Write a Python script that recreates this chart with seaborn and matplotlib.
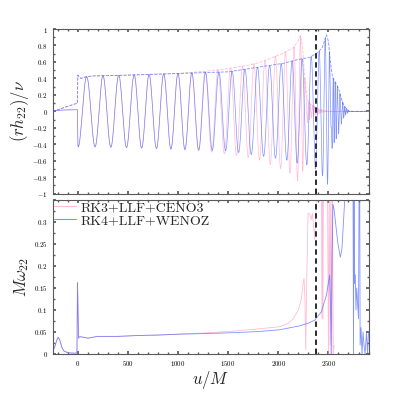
import numpy as np
import seaborn as sns
import matplotlib.pyplot as plt
from matplotlib.ticker import MultipleLocator, FuncFormatter

# --- values ---
# frequency M*omega_22 (shared part, both runs agree up to u ~ 1000)
u_w_early = [-250, -230, -210, -195, -180, -160, -140, -100, -50, -8, -3, 2, 8, 16, 30, 60, 100, 150, 200, 400, 600, 800, 1000]
w_early = [0.006, 0.016, 0.031, 0.038, 0.032, 0.016, 0.007, 0.003, 0.002, 0.002, 0.162, 0.11, 0.036, 0.039, 0.039, 0.038, 0.036, 0.038, 0.040, 0.040, 0.042, 0.043, 0.045]

# RK3+LLF+CENO3 (pink) after u ~ 1000
u_w_pink = [1200, 1500, 1800, 2015, 2100, 2148, 2200, 2230, 2247, 2257, 2266, 2274, 2282, 2297, 2314, 2328, 2340, 2352, 2364, 2376, 2390, 2430, 2435, 2440, 2445, 2450, 2490, 2500, 2508, 2515, 2525, 2533, 2540, 2548, 2556]
w_pink = [0.047, 0.051, 0.057, 0.062, 0.070, 0.080, 0.100, 0.125, 0.160, 0.172, 0.120, 0.010, 0.150, 0.320, 0.318, 0.305, 0.320, 0.290, 0.260, 0.330, 0.400, 0.400, 0.080, 0.400, 0.080, 0.400, 0.400, 0.000, 0.400, 0.020, 0.400, 0.000, 0.400, 0.000, 0.020]

# RK4+LLF+WENOZ (blue) after u ~ 1000
u_w_blue = [1200, 1500, 1800, 2015, 2214, 2300, 2364, 2430, 2480, 2513, 2520, 2527, 2535, 2545, 2556, 2570, 2595, 2619, 2635, 2650, 2665, 2700, 2745, 2750, 2755, 2760, 2768, 2775, 2782, 2790, 2800, 2806, 2812, 2816, 2825, 2835, 2845, 2855, 2865, 2880, 2890, 2900]
w_blue = [0.046, 0.048, 0.051, 0.055, 0.064, 0.070, 0.077, 0.096, 0.134, 0.180, 0.120, 0.000, 0.200, 0.340, 0.330, 0.300, 0.250, 0.220, 0.240, 0.300, 0.360, 0.400, 0.400, 0.000, 0.400, 0.160, 0.180, 0.100, 0.150, 0.120, 0.080, 0.400, 0.400, 0.020, 0.060, 0.000, 0.050, 0.020, 0.000, 0.050, 0.000, 0.050]

# amplitude |r h_22|/nu (dashed envelopes)
u_amp_pink = [-250, -3, 0, 30, 80, 150, 500, 1000, 1300, 1500, 1700, 1817, 2015, 2148, 2190, 2221, 2240, 2260, 2290, 2320, 2360, 2400, 2450, 2500, 2900]
amp_pink = [0.0, 0.10, 0.44, 0.40, 0.42, 0.43, 0.44, 0.46, 0.49, 0.52, 0.56, 0.595, 0.69, 0.77, 0.84, 0.92, 0.80, 0.45, 0.14, 0.09, 0.06, 0.03, 0.01, 0.0, 0.0]
u_amp_blue = [-250, -3, 0, 30, 80, 150, 500, 1000, 1500, 2048, 2200, 2314, 2400, 2440, 2480, 2500, 2520, 2540, 2570, 2600, 2630, 2660, 2690, 2710, 2900]
amp_blue = [0.0, 0.10, 0.44, 0.40, 0.42, 0.43, 0.44, 0.46, 0.48, 0.583, 0.63, 0.656, 0.72, 0.78, 0.93, 0.85, 0.60, 0.42, 0.35, 0.28, 0.15, 0.06, 0.02, 0.0, 0.0]

# real part before the junk burst at u = 0
u_pre = [-250, -200, -150, -100, -50, -3]
re_pre = [0.003, 0.012, 0.016, 0.018, 0.019, 0.020]

u_merger = 2375
labels = ['RK3+LLF+CENO3', 'RK4+LLF+WENOZ']
colors = ['#ff9ec8', '#4a64ff']

w_pink_all = (u_w_early + u_w_pink, w_early + w_pink)
w_blue_all = (u_w_early + u_w_blue, w_early + w_blue)


def real_part(u_w, w, u_amp, amp):
    # Re(h) = A cos(phi), phi from integrating the frequency above
    u = np.arange(0.0, 2900.1, 0.1)
    om = np.interp(u, u_w, w)
    phi = np.concatenate([[0.0], np.cumsum(0.5 * (om[1:] + om[:-1]) * np.diff(u))])
    phi = phi - np.interp(6.0, u, phi) + np.pi
    re = np.interp(u, u_amp, amp) * np.cos(phi)
    return np.concatenate([u_pre, u]), np.concatenate([re_pre, re])


sns.set_theme(style='ticks')
plt.rcParams.update({
    'font.family': 'serif',
    'font.serif': ['cmr10', 'DejaVu Serif'],
    'mathtext.fontset': 'cm',
    'axes.formatter.use_mathtext': True,
    'axes.edgecolor': '0.35',
    'axes.linewidth': 0.8,
    'xtick.direction': 'in', 'ytick.direction': 'in',
    'xtick.top': True, 'ytick.right': True,
    'xtick.color': '0.35', 'ytick.color': '0.35',
    'xtick.labelcolor': 'black', 'ytick.labelcolor': 'black',
    'xtick.major.size': 2.5, 'ytick.major.size': 2.5,
    'xtick.minor.size': 1.3, 'ytick.minor.size': 1.3,
    'xtick.minor.visible': True, 'ytick.minor.visible': True,
    'xtick.labelsize': 5, 'ytick.labelsize': 5,
})

fig = plt.figure(figsize=(4.07, 3.98), dpi=100)
ax1 = fig.add_axes([0.1295, 0.5133, 0.776, 0.4138])
ax2 = fig.add_axes([0.1295, 0.1106, 0.776, 0.3869])

fmt = FuncFormatter(lambda v, p: '$%g$' % round(v, 3))
fmt_w = FuncFormatter(lambda v, p: '' if v > 0.33 else '$%g$' % round(v, 3))

# top: waveform
for (u_w, w), u_a, a, c in [(w_pink_all, u_amp_pink, amp_pink, colors[0]),
                             (w_blue_all, u_amp_blue, amp_blue, colors[1])]:
    uu, re = real_part(u_w, w, u_a, a)
    sns.lineplot(x=uu, y=re, ax=ax1, color=c, lw=0.5, alpha=0.7, estimator=None, sort=False)
    sns.lineplot(x=u_a, y=a, ax=ax1, color=c, lw=0.6, alpha=0.7, estimator=None, sort=False, linestyle='--')
ax1.axvline(u_merger, color='k', ls='--', lw=1.3, dashes=(3, 2))
ax1.set_xlim(-250, 2900)
ax1.set_ylim(-1, 1)
ax1.xaxis.set_major_locator(MultipleLocator(500))
ax1.xaxis.set_minor_locator(MultipleLocator(100))
ax1.yaxis.set_major_locator(MultipleLocator(0.2))
ax1.yaxis.set_minor_locator(MultipleLocator(0.1))
ax1.yaxis.set_major_formatter(fmt)
ax1.set_xticklabels([])
ax1.set_ylabel(r'$(rh_{22})/\nu$', fontsize=12)
ax1.yaxis.set_label_coords(-0.068, 0.5)

# bottom: frequency
for (u_w, w), lab, c in [(w_pink_all, labels[0], colors[0]), (w_blue_all, labels[1], colors[1])]:
    sns.lineplot(x=u_w, y=w, ax=ax2, color=c, lw=0.6, alpha=0.7, estimator=None, sort=False, label=lab)
ax2.axvline(u_merger, color='k', ls='--', lw=1.3, dashes=(3, 2))
ax2.set_xlim(-250, 2900)
ax2.set_ylim(0, 0.35)
ax2.xaxis.set_major_locator(MultipleLocator(500))
ax2.xaxis.set_minor_locator(MultipleLocator(100))
ax2.yaxis.set_major_locator(MultipleLocator(0.05))
ax2.yaxis.set_minor_locator(MultipleLocator(0.025))
ax2.xaxis.set_major_formatter(fmt)
ax2.yaxis.set_major_formatter(fmt_w)
ax2.set_xlabel(r'$u/M$', fontsize=12)
ax2.xaxis.set_label_coords(0.5, -0.095)
ax2.set_ylabel(r'$M\omega_{22}$', fontsize=12)
ax2.yaxis.set_label_coords(-0.068, 0.5)
leg = ax2.legend(loc='upper left', frameon=False, fontsize=10, handlelength=1.6,
                 handletextpad=0.3, labelspacing=0.0, borderaxespad=0.1, borderpad=0.0)
for line in leg.get_lines():
    line.set_linewidth(0.8)

fig.savefig('out.png', dpi=100)
